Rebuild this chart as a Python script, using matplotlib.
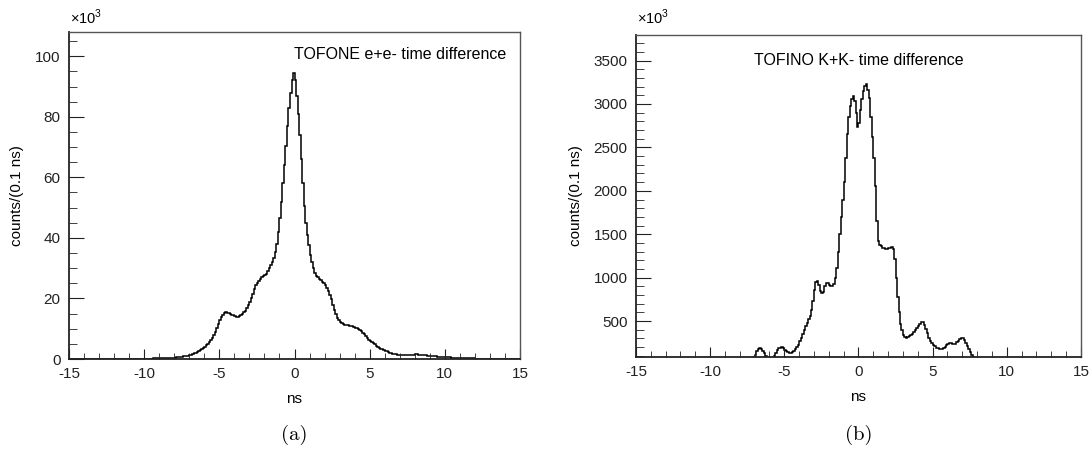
import numpy as np
import matplotlib
matplotlib.use("Agg")
import matplotlib.pyplot as plt
from matplotlib.ticker import MultipleLocator

plt.rcParams['font.family'] = ['Liberation Sans', 'DejaVu Sans']
plt.rcParams['axes.unicode_minus'] = False
plt.rcParams['mathtext.fontset'] = 'custom'
plt.rcParams['mathtext.rm'] = 'Liberation Sans'

# TOFONE e+e- : counts (x10^3) per 0.1 ns bin, bins from -10 to 12 ns
tofone_start = -10.0
tofone_counts = [
    0.1, 0.1, 0.12, 0.13, 0.15, 0.16, 0.18, 0.2, 0.21, 0.23,
    0.25, 0.27, 0.29, 0.31, 0.33, 0.35, 0.38, 0.4, 0.43, 0.46,
    0.5, 0.54, 0.58, 0.62, 0.7, 0.78, 0.86, 0.95, 1.05, 1.15,
    1.3, 1.45, 1.65, 1.85, 2.05, 2.3, 2.55, 2.85, 3.2, 3.6,
    4.0, 4.5, 5.0, 5.6, 6.3, 7.1, 8.0, 9.0, 10.2, 11.5,
    12.8, 13.9, 14.7, 15.2, 15.4, 15.3, 15.1, 14.9, 14.7, 14.5,
    14.2, 14.0, 14.0, 14.2, 14.5, 14.9, 15.4, 16.0, 16.8, 17.7,
    18.8, 20.0, 21.5, 23.0, 24.3, 25.2, 25.8, 26.4, 27.0, 27.4,
    27.7, 28.2, 29.0, 30.0, 31.0, 32.0, 33.5, 35.5, 38.0, 42.0,
    46.5, 52.0, 58.0, 64.0, 70.5, 77.0, 83.0, 88.0, 92.0, 94.5,
    92.0, 87.0, 81.0, 74.0, 66.0, 58.0, 50.5, 45.0, 41.0, 37.5,
    34.5, 32.0, 30.0, 28.5, 27.5, 27.0, 26.5, 26.0, 25.5, 25.0,
    24.3, 23.5, 22.5, 21.2, 19.7, 18.0, 16.3, 14.8, 13.6, 12.8,
    12.2, 11.8, 11.5, 11.3, 11.2, 11.1, 11.0, 10.9, 10.8, 10.6,
    10.4, 10.2, 9.9, 9.6, 9.2, 8.7, 8.1, 7.5, 6.9, 6.4,
    6.0, 5.6, 5.2, 4.8, 4.4, 4.0, 3.7, 3.4, 3.2, 3.0,
    2.8, 2.5, 2.3, 2.1, 1.9, 1.75, 1.6, 1.5, 1.4, 1.35,
    1.3, 1.3, 1.3, 1.3, 1.35, 1.35, 1.4, 1.4, 1.45, 1.45,
    1.5, 1.5, 1.45, 1.4, 1.35, 1.3, 1.25, 1.2, 1.1, 1.05,
    1.0, 0.95, 0.9, 0.87, 0.84, 0.8, 0.77, 0.74, 0.7, 0.65,
    0.6, 0.57, 0.54, 0.52, 0.5, 0.48, 0.46, 0.44, 0.42, 0.4,
    0.38, 0.36, 0.35, 0.34, 0.32, 0.31, 0.3, 0.29, 0.28, 0.27,
]

# TOFINO K+K- : counts per 0.1 ns bin, bins from -7.5 to 8.0 ns
tofino_start = -7.5
tofino_counts = [
    30, 40, 50, 65, 85,
    115, 150, 175, 187, 180, 160, 130, 100, 75, 60,
    55, 60, 75, 100, 135, 165, 185, 195, 196, 185,
    170, 155, 140, 135, 138, 145, 160, 180, 200, 230,
    265, 305, 350, 395, 440, 480, 520, 560, 630, 730,
    860, 950, 960, 910, 850, 820, 840, 900, 940, 935,
    920, 905, 900, 930, 1000, 1110, 1300, 1500, 1700, 1900,
    2100, 2380, 2650, 2850, 2980, 3060, 3090, 3030, 2900, 2740,
    2780, 2930, 3060, 3150, 3210, 3225, 3160, 3070, 2850, 2620,
    2380, 2050, 1650, 1420, 1380, 1360, 1345, 1340, 1335, 1335,
    1340, 1345, 1350, 1330, 1220, 1000, 780, 600, 470, 400,
    345, 315, 310, 315, 325, 340, 355, 375, 395, 420,
    445, 470, 490, 490, 460, 410, 360, 310, 270, 245,
    225, 210, 195, 185, 178, 174, 178, 190, 205, 225,
    240, 250, 248, 240, 235, 240, 255, 275, 295, 308,
    305, 285, 250, 210, 175, 140, 110, 85, 65, 50,
]

bin_w = 0.1
x_range = (-15, 15)


def full_hist(start, counts):
    counts = np.asarray(counts, dtype=float)
    n_lo = int(round((start - x_range[0]) / bin_w))
    n_hi = int(round((x_range[1] - (start + bin_w * len(counts))) / bin_w))
    vals = np.concatenate([np.zeros(n_lo), counts, np.zeros(n_hi)])
    edges = np.linspace(x_range[0], x_range[1], len(vals) + 1)
    return vals, edges


def style_axis(ax, ymaj, ymin_step):
    ax.set_xlim(*x_range)
    ax.xaxis.set_major_locator(MultipleLocator(5))
    ax.xaxis.set_minor_locator(MultipleLocator(1))
    ax.yaxis.set_major_locator(MultipleLocator(ymaj))
    ax.yaxis.set_minor_locator(MultipleLocator(ymin_step))
    ax.tick_params(which='both', direction='in', top=False, right=False,
                   labelsize=11, colors='#222222')
    ax.tick_params(axis='x', which='major', length=7, pad=6)
    ax.tick_params(axis='x', which='minor', length=4)
    ax.tick_params(axis='y', which='major', length=11, pad=6)
    ax.tick_params(axis='y', which='minor', length=6)
    for s in ['left', 'bottom']:
        ax.spines[s].set_linewidth(1.3)
        ax.spines[s].set_color('#222222')
    for s in ['top', 'right']:
        ax.spines[s].set_linewidth(1.0)
        ax.spines[s].set_color('#555555')
    ax.set_xlabel('ns', fontsize=11, labelpad=8)
    ax.set_ylabel('counts/(0.1 ns)', fontsize=11, labelpad=8)


fig = plt.figure(figsize=(10.92, 4.57), dpi=100)
ax1 = fig.add_axes([0.0632, 0.2144, 0.413, 0.7155])
ax2 = fig.add_axes([0.5824, 0.2195, 0.4075, 0.704])

v1, e1 = full_hist(tofone_start, tofone_counts)
ax1.stairs(v1, e1, baseline=None, color='black', lw=1.1)
ax1.set_ylim(0, 108)
style_axis(ax1, 20, 5)
ax1.text(0.97, 0.93, 'TOFONE e+e- time difference', transform=ax1.transAxes,
         ha='right', va='center', fontsize=11.5)

v2, e2 = full_hist(tofino_start, tofino_counts)
ax2.stairs(v2, e2, baseline=None, color='black', lw=1.1)
ax2.set_ylim(90, 3795)
style_axis(ax2, 500, 100)
ax2.text(0.5, 0.92, 'TOFINO K+K- time difference', transform=ax2.transAxes,
         ha='center', va='center', fontsize=11.5)

fig.text(0.064, 0.962, '×10$^{3}$', fontsize=10.5, ha='left', va='center')
fig.text(0.583, 0.962, '×10$^{3}$', fontsize=10.5, ha='left', va='center')

fig.text(0.2697, 0.048, '(a)', fontsize=15, ha='center', va='center',
         family=['cmr10', 'DejaVu Serif'])
fig.text(0.786, 0.048, '(b)', fontsize=15, ha='center', va='center',
         family=['cmr10', 'DejaVu Serif'])

fig.savefig('out.png', dpi=100)
plt.close(fig)
